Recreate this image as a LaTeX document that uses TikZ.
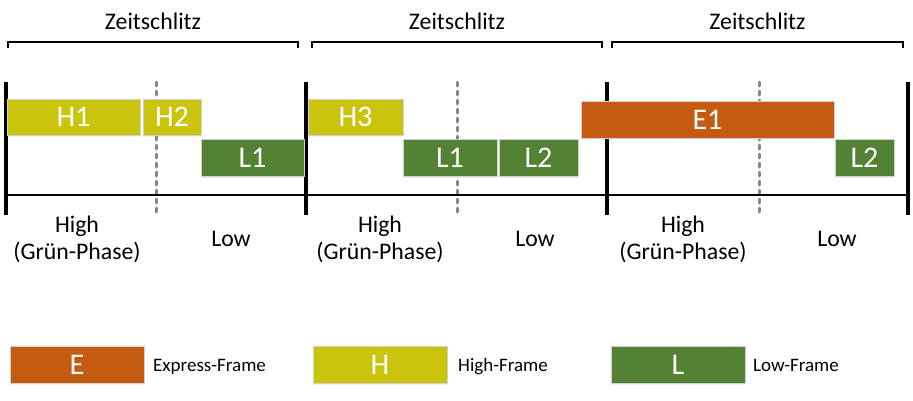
\documentclass[tikz,border=0pt]{standalone}
\usepackage{fontspec}
\setmainfont{Carlito}
\usetikzlibrary{shadows}

\definecolor{expressrot}{RGB}{197,90,17}
\definecolor{highgelb}{RGB}{203,196,12}
\definecolor{lowgruen}{RGB}{84,130,53}
\definecolor{strichgrau}{RGB}{135,135,135}

\tikzset{
  rahmen/.style={draw=white!82!black, line width=0.8pt, inner sep=0pt,
    text=white, font=\fontsize{30}{33}\selectfont,
    drop shadow={opacity=0.12, shadow xshift=0pt, shadow yshift=-2pt}},
  ebox/.style={rahmen, fill=expressrot},
  hbox/.style={rahmen, fill=highgelb},
  lbox/.style={rahmen, fill=lowgruen},
  beschr/.style={font=\fontsize{23.8}{27}\selectfont, align=center, inner sep=0pt, anchor=base},
  legtext/.style={font=\fontsize{19}{22}\selectfont, anchor=base west, inner sep=0pt},
  grenze/.style={line width=3.2pt},
  mitte/.style={strichgrau, line width=3pt, dash pattern=on 4pt off 5pt, line cap=round}
}

\begin{document}
\begin{tikzpicture}[x=1pt, y=-1pt]
    \useasboundingbox (0,0) rectangle (913,400);

    % Zeitschlitze
    \foreach \a/\b/\n in {8/298/z1, 312/602/z2, 612/903/z3} {
        \draw[line width=2pt] (\a,48) -- (\a,42) -- (\b,42) -- (\b,48);
        \node[beschr] (\n) at ({(\a+\b)/2},29) {Zeitschlitz};
    }

    % Mitte der Zeitschlitze
    \foreach \x in {156, 457, 759}
        \draw[mitte] (\x,82) -- (\x,215);

    % Zeitachse
    \draw[line width=2.6pt] (5,195) -- (909,195);
    \foreach \x in {6, 306, 607, 908}
        \draw[grenze] (\x,82) -- (\x,215);

    % Frames
    \node[hbox, minimum width=133pt, minimum height=36pt] (h1) at (73.5,117) {H1};
    \node[hbox, minimum width=58pt, minimum height=36pt] (h2) at (172,117) {H2};
    \node[lbox, minimum width=103pt, minimum height=37pt] (l1a) at (252.5,157.5) {L1};
    \node[hbox, minimum width=95pt, minimum height=36pt] (h3) at (355.5,117) {H3};
    \node[lbox, minimum width=94pt, minimum height=37pt] (l1b) at (450,157.5) {L1};
    \node[lbox, minimum width=79pt, minimum height=37pt] (l2a) at (538.5,157.5) {L2};
    \node[ebox, minimum width=253pt, minimum height=37pt] (e1) at (707.5,119.5) {E1};
    \node[lbox, minimum width=59pt, minimum height=37pt] (l2b) at (864.5,157.5) {L2};

    % Phasen
    \foreach \x/\n in {77/p1, 380/p2, 683/p3}
        \node[beschr] (\n) at (\x,259) {High\\(Grün-Phase)};
    \foreach \x/\n in {231/q1, 535/q2, 837/q3}
        \node[beschr] (\n) at (\x,246) {Low};

    % Legende
    \node[ebox, minimum width=134pt, minimum height=37pt] (le) at (77,364.5) {E};
    \node[hbox, minimum width=134pt, minimum height=37pt] (lh) at (380,364.5) {H};
    \node[lbox, minimum width=134pt, minimum height=37pt] (ll) at (678,364.5) {L};
    \node[legtext] (te) at (153,371) {Express-Frame};
    \node[legtext] (th) at (458,371) {High-Frame};
    \node[legtext] (tl) at (753,371) {Low-Frame};
\end{tikzpicture}
\end{document}
